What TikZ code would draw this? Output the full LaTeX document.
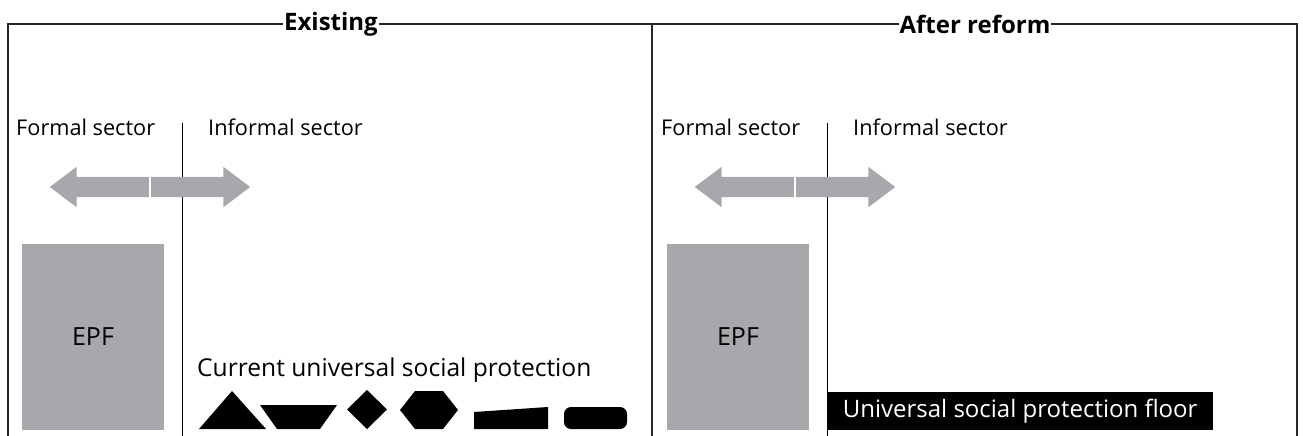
\documentclass[tikz,border=0pt]{standalone}
\usepackage{fontspec}
\setmainfont{Open Sans}
\usepackage{tikz}
\usetikzlibrary{positioning, shapes.arrows, calc}

\definecolor{epfgray}{HTML}{A7A8AB}

\begin{document}
\begin{tikzpicture}[
			x=1pt, y=-1pt,
			frame/.style={draw=black!85, line width=1.4pt},
			split/.style={draw=black, line width=1pt},
			title/.style={fill=white, inner sep=1pt, font=\bfseries\fontsize{24}{28}\selectfont},
			lbl/.style={inner sep=0pt, anchor=base west, font=\fontsize{21.7}{26}\selectfont},
			big/.style={lbl, font=\fontsize{24.6}{29}\selectfont},
			epf/.style={fill=epfgray, inner sep=0pt, minimum width=142pt, minimum height=186pt, font=\fontsize{25}{30}\selectfont},
			half/.style={single arrow, fill=epfgray, anchor=tail, inner xsep=0pt, inner ysep=10pt, minimum width=40pt, minimum height=99pt, single arrow head extend=10pt, single arrow tip angle=74},
			floor/.style={fill=black, text=white, anchor=south west, inner sep=0pt, minimum width=385pt, minimum height=38pt, font=\fontsize{24}{29}\selectfont}
			]
			\useasboundingbox (0,0) rectangle (1303,436);
			
			% outer frame, open at the bottom
			\draw[frame] (8,436) -- (8,24) -- (1297,24) -- (1297,436);
			\draw[frame] (652,24) -- (652,436);
			\node[title] (t1) at (331,24) {Existing};
			\node[title] (t2) at (975,24) {After reform};
			
			% existing scheme
			\coordinate (s1) at (182,123);
			\draw[split] (s1) -- (182,436);
			\node[lbl] (f1) at (16,135) {Formal sector};
			\node[lbl] (i1) at (208,135) {Informal sector};
			\node[half, shape border rotate=180] (al1) at (149,187) {};
			\node[half] (ar1) at (151,187) {};
			\node[epf] (e1) at (93,337) {EPF};
			\node[big] (c1) at (197,376.5) {Current universal social protection};
			
			% existing programmes
			\fill (199,429) -- (232,391) -- (266,429) -- cycle;
			\fill (260,405) -- (337,405) -- (320,429) -- (277,429) -- cycle;
			\fill (367,390) -- (387,409.5) -- (367,429) -- (347,409.5) -- cycle;
			\fill (415,391) -- (443,391) -- (458,410) -- (443,429) -- (415,429) -- (400,410) -- cycle;
			\fill (474,412) -- (548,407) -- (548,429) -- (474,429) -- cycle;
			\fill[rounded corners=7pt] (564,407) rectangle (627,429);
			
			% after the reform
			\coordinate (s2) at (827,123);
			\draw[split] (s2) -- (827,436);
			\node[lbl] (f2) at (661,135) {Formal sector};
			\node[lbl] (i2) at (853,135) {Informal sector};
			\node[half, shape border rotate=180] (al2) at (794,187) {};
			\node[half] (ar2) at (796,187) {};
			\node[epf] (e2) at (738,337) {EPF};
			\node[floor] (u2) at (827.5,430) {Universal social protection floor};
		\end{tikzpicture}
\end{document}
